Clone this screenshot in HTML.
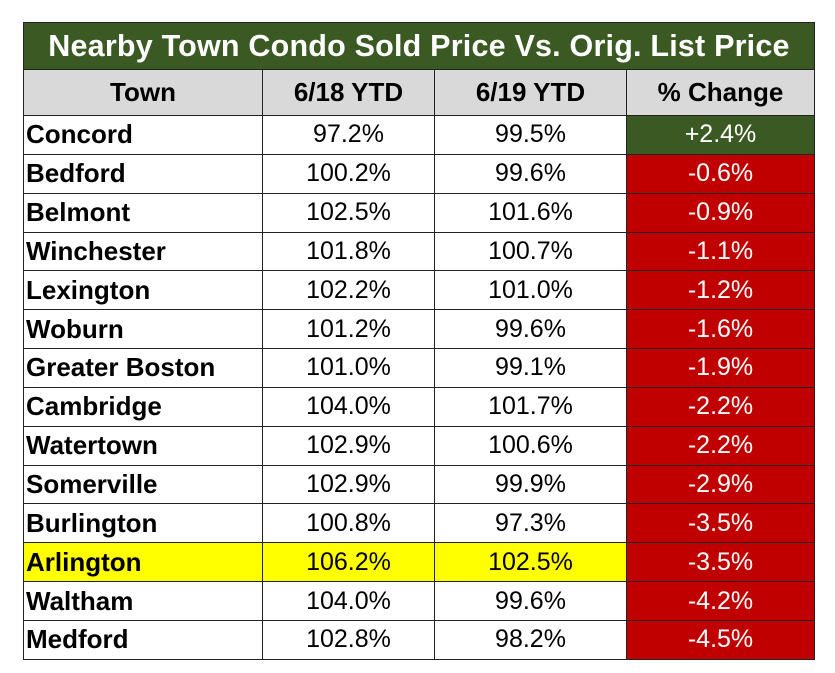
<!DOCTYPE html>
<html><head><meta charset="utf-8"><style>
body{margin:0;background:#fff;width:835px;height:673px;overflow:hidden;font-family:"Liberation Sans",sans-serif}
table{position:absolute;left:23px;top:22px;border-collapse:collapse;table-layout:fixed}
td{border:1.5px solid #222;padding:0;height:37.85px;font-size:25px;text-align:center;color:#000}
td.t{text-align:left;font-weight:bold;padding-left:2px;font-size:26px}
.title{background:#3b5a23;color:#fff;font-weight:bold;font-size:30.5px;height:46px;letter-spacing:0.2px}
.hdr td{background:#d9d9d9;font-weight:bold;height:45px;font-size:26px}
.pos{background:#3b5a23;color:#fff}
.neg{background:#c00000;color:#fff}
.y{background:#ffff00}
</style></head><body>
<table>
<colgroup><col style="width:239px"><col style="width:172px"><col style="width:192px"><col style="width:188px"></colgroup>
<tr><td colspan="4" class="title">Nearby Town Condo Sold Price Vs. Orig. List Price</td></tr>
<tr class="hdr"><td>Town</td><td>6/18 YTD</td><td>6/19 YTD</td><td>% Change</td></tr>
<tbody id="body"></tbody>
</table>
<script>
const towns=["Concord","Bedford","Belmont","Winchester","Lexington","Woburn","Greater Boston","Cambridge","Watertown","Somerville","Burlington","Arlington","Waltham","Medford"];
const ytd18=["97.2%","100.2%","102.5%","101.8%","102.2%","101.2%","101.0%","104.0%","102.9%","102.9%","100.8%","106.2%","104.0%","102.8%"];
const ytd19=["99.5%","99.6%","101.6%","100.7%","101.0%","99.6%","99.1%","101.7%","100.6%","99.9%","97.3%","102.5%","99.6%","98.2%"];
const change=["+2.4%","-0.6%","-0.9%","-1.1%","-1.2%","-1.6%","-1.9%","-2.2%","-2.2%","-2.9%","-3.5%","-3.5%","-4.2%","-4.5%"];
const tb=document.getElementById('body');
towns.forEach((t,i)=>{
const tr=document.createElement('tr');


const hl=t==="Arlington"?' class="y"':'';
const cls=change[i][0]==='+'?'pos':'neg';
tr.innerHTML=`<td class="t${t==="Arlington"?' y':''}">${t}</td><td${hl}>${ytd18[i]}</td><td${hl}>${ytd19[i]}</td><td class="${cls}">${change[i]}</td>`;
tb.appendChild(tr);
});
</script>
</body></html>
